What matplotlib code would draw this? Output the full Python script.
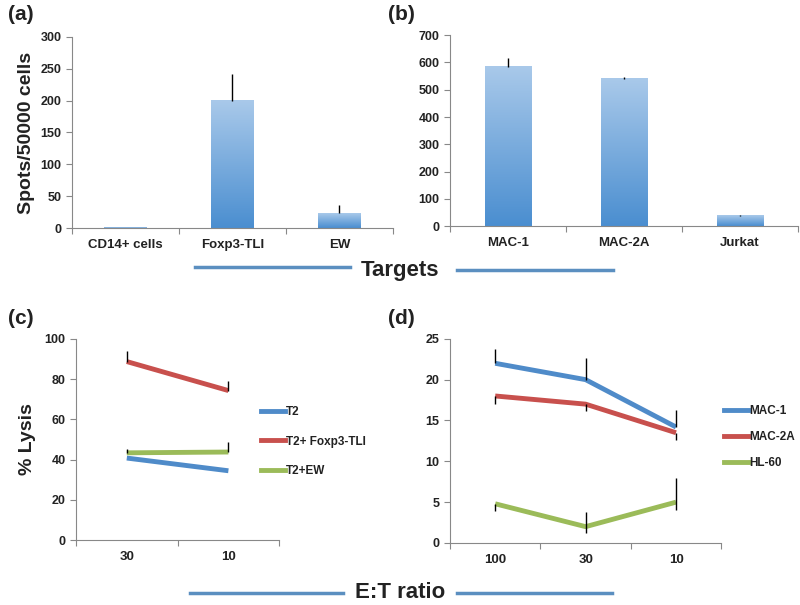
import numpy as np
import matplotlib.pyplot as plt
from matplotlib.lines import Line2D

plt.rcParams['font.family'] = ['Liberation Sans', 'DejaVu Sans']
plt.rcParams['font.weight'] = 'bold'
plt.rcParams['axes.labelweight'] = 'bold'

# panel (a)
cats_a = ["CD14+ cells", "Foxp3-TLI", "EW"]
vals_a = [1, 200, 23]
err_a = [0, 42, 14]

# panel (b)
cats_b = ["MAC-1", "MAC-2A", "Jurkat"]
vals_b = [583, 540, 38]
err_b = [33, 6, 3]

# panel (c)
ratios_c = ["30", "10"]
t2 = [40.8, 34.5]
t2_foxp3 = [88.7, 74.3]
t2_ew = [43.4, 43.8]
t2_up = [0, 0]
t2_foxp3_up = [5.0, 4.7]
t2_ew_up = [1.9, 5.0]

# panel (d)
ratios_d = ["100", "30", "10"]
mac1 = [22.0, 20.0, 14.2]
mac2a = [18.0, 17.0, 13.5]
hl60 = [4.8, 2.0, 5.0]
mac1_lo, mac1_up = [0, 0, 0], [1.7, 2.6, 2.1]
mac2a_lo, mac2a_up = [1.0, 0.9, 0.9], [0, 0, 0]
hl60_lo, hl60_up = [0.9, 0.8, 0.9], [0, 1.8, 2.9]

c_blue = "#4f8bc9"
c_red = "#c8504d"
c_green = "#9bbb59"
grey = "#888888"
txt = "#222222"

fig = plt.figure(figsize=(8, 6.05), dpi=100)


def style(ax, n):
    for s in ["top", "right"]:
        ax.spines[s].set_visible(False)
    for s in ["left", "bottom"]:
        ax.spines[s].set_color(grey)
    ax.set_xlim(-0.5, n - 0.5)
    ax.set_xticks(np.arange(n + 1) - 0.5)
    ax.set_xticklabels([])
    ax.tick_params(axis="x", which="major", length=4, color=grey)
    ax.tick_params(axis="y", length=4, color=grey, labelsize=9, labelcolor=txt)


def bars(ax, cats, vals, errs, ymax, step):
    n = len(cats)
    style(ax, n)
    ax.set_ylim(0, ymax)
    ax.set_yticks(np.arange(0, ymax + 1, step))
    grad = np.linspace(0, 1, 256).reshape(-1, 1)
    cmap = plt.matplotlib.colors.LinearSegmentedColormap.from_list("g", ["#4a8ed0", "#a9c9ea"])
    w = 0.4
    for i, (v, e) in enumerate(zip(vals, errs)):
        ax.imshow(grad, extent=[i - w / 2, i + w / 2, 0, v], origin="lower",
                  cmap=cmap, aspect="auto", zorder=2)
        if e > 0:
            ax.vlines(i, v, v + e, color="black", lw=1, zorder=3)
    ax.set_xlim(-0.5, n - 0.5)
    ax.set_xticks(range(n), cats, minor=True)
    ax.tick_params(axis="x", which="minor", length=0, labelsize=9.5, labelcolor=txt, pad=8)


ax_a = fig.add_axes([0.09, 0.623, 0.401, 0.316])
bars(ax_a, cats_a, vals_a, err_a, 300, 50)
ax_a.set_ylabel("Spots/50000 cells", fontsize=14, color=txt, labelpad=4)

ax_b = fig.add_axes([0.5625, 0.626, 0.435, 0.316])
bars(ax_b, cats_b, vals_b, err_b, 700, 100)


def lines(ax, labels, series, ymax, step, legend_x, legend_y, spacing):
    n = len(labels)
    style(ax, n)
    x = np.arange(n)
    handles = []
    for name, y, lo, up, col in series:
        ax.vlines(x, np.array(y) - np.array(lo), np.array(y) + np.array(up),
                  color="black", lw=1, zorder=3)
        ax.plot(x, y, color=col, lw=3.5, zorder=2, solid_capstyle="butt")
        handles.append(Line2D([], [], color=col, lw=3.5, label=name))
    ax.set_ylim(0, ymax)
    ax.set_yticks(np.arange(0, ymax + 1, step))
    ax.set_xticks(x, labels, minor=True)
    ax.tick_params(axis="x", which="minor", length=0, labelsize=9.5, labelcolor=txt, pad=8)
    ax.legend(handles=handles, loc="center left", bbox_to_anchor=(legend_x, legend_y),
              frameon=False, fontsize=8.5, handlelength=2.0, handletextpad=0.15,
              labelspacing=spacing, labelcolor=txt, borderpad=0, borderaxespad=0)


ax_c = fig.add_axes([0.095, 0.107, 0.254, 0.333])
lines(ax_c, ratios_c,
      [("T2", t2, [0, 0], t2_up, c_blue),
       ("T2+ Foxp3-TLI", t2_foxp3, [0, 0], t2_foxp3_up, c_red),
       ("T2+EW", t2_ew, [0, 0], t2_ew_up, c_green)],
      100, 20, 0.91, 0.49, 1.45)
ax_c.set_ylabel("% Lysis", fontsize=14, color=txt, labelpad=6)

ax_d = fig.add_axes([0.5625, 0.1025, 0.339, 0.3375])
lines(ax_d, ratios_d,
      [("MAC-1", mac1, mac1_lo, mac1_up, c_blue),
       ("MAC-2A", mac2a, mac2a_lo, mac2a_up, c_red),
       ("HL-60", hl60, hl60_lo, hl60_up, c_green)],
      25, 5, 1.01, 0.52, 1.2)

# shared x labels with decorative lines
fig.text(0.5, 1 - 270 / 605, "Targets", ha="center", va="center", fontsize=16, color=txt)
fig.add_artist(Line2D([195 / 800, 350 / 800], [1 - 267 / 605] * 2, color="#5b8fc0", lw=2.5))
fig.add_artist(Line2D([457 / 800, 613 / 800], [1 - 270 / 605] * 2, color="#5b8fc0", lw=2.5))

fig.text(0.5, 1 - 592 / 605, "E:T ratio", ha="center", va="center", fontsize=16, color=txt)
fig.add_artist(Line2D([190 / 800, 343 / 800], [1 - 593 / 605] * 2, color="#5b8fc0", lw=2.5))
fig.add_artist(Line2D([457 / 800, 612 / 800], [1 - 593 / 605] * 2, color="#5b8fc0", lw=2.5))

for lab, x, y in [("(a)", 8, 14), ("(b)", 388, 14), ("(c)", 8, 318), ("(d)", 388, 318)]:
    fig.text(x / 800, 1 - y / 605, lab, ha="left", va="center", fontsize=15, color=txt)

fig.savefig("out.png", dpi=100)
